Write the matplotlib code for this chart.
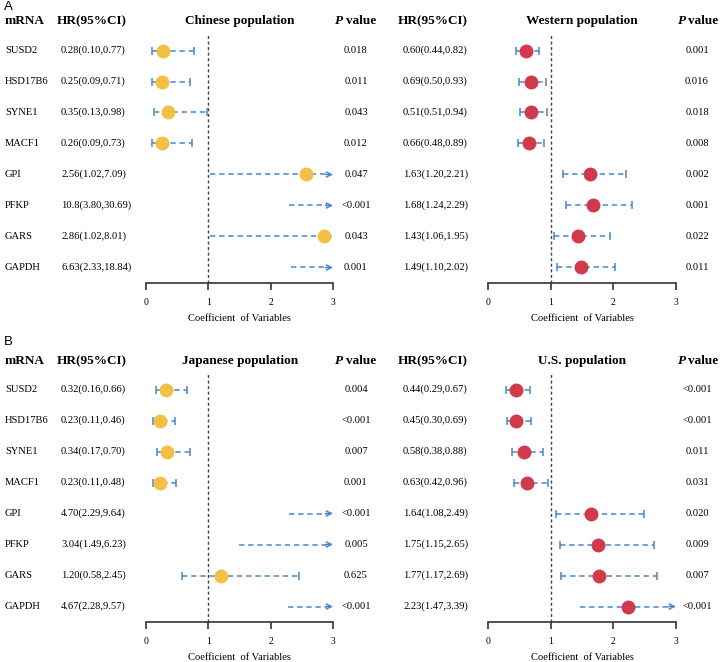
import numpy as np
import matplotlib.pyplot as plt
from matplotlib.transforms import blended_transform_factory

plt.rcParams['font.family'] = ['Liberation Serif', 'DejaVu Serif']

genes = ['SUSD2', 'HSD17B6', 'SYNE1', 'MACF1', 'GPI', 'PFKP', 'GARS', 'GAPDH']

# Chinese population
cn_text = ['0.28(0.10,0.77)', '0.25(0.09,0.71)', '0.35(0.13,0.98)', '0.26(0.09,0.73)',
           '2.56(1.02,7.09)', '10.8(3.80,30.69)', '2.86(1.02,8.01)', '6.63(2.33,18.84)']
cn_est = [0.28, 0.25, 0.35, 0.26, 2.56, 10.8, 2.86, 6.63]
cn_lo = [0.10, 0.09, 0.13, 0.09, 1.02, 2.30, 1.02, 2.33]
cn_hi = [0.77, 0.71, 0.98, 0.73, 7.09, 30.69, 8.01, 18.84]
cn_p = ['0.018', '0.011', '0.043', '0.012', '0.047', '<0.001', '0.043', '0.001']

# Western population
we_text = ['0.60(0.44,0.82)', '0.69(0.50,0.93)', '0.51(0.51,0.94)', '0.66(0.48,0.89)',
           '1.63(1.20,2.21)', '1.68(1.24,2.29)', '1.43(1.06,1.95)', '1.49(1.10,2.02)']
we_est = [0.60, 0.69, 0.69, 0.66, 1.63, 1.68, 1.43, 1.49]
we_lo = [0.44, 0.50, 0.51, 0.48, 1.20, 1.24, 1.06, 1.10]
we_hi = [0.82, 0.93, 0.94, 0.89, 2.21, 2.29, 1.95, 2.02]
we_p = ['0.001', '0.016', '0.018', '0.008', '0.002', '0.001', '0.022', '0.011']

# Japanese population
jp_text = ['0.32(0.16,0.66)', '0.23(0.11,0.46)', '0.34(0.17,0.70)', '0.23(0.11,0.48)',
           '4.70(2.29,9.64)', '3.04(1.49,6.23)', '1.20(0.58,2.45)', '4.67(2.28,9.57)']
jp_est = [0.32, 0.23, 0.34, 0.23, 4.70, 3.04, 1.20, 4.67]
jp_lo = [0.16, 0.11, 0.17, 0.11, 2.29, 1.49, 0.58, 2.28]
jp_hi = [0.66, 0.46, 0.70, 0.48, 9.64, 6.23, 2.45, 9.57]
jp_p = ['0.004', '<0.001', '0.007', '0.001', '<0.001', '0.005', '0.625', '<0.001']

# U.S. population
us_text = ['0.44(0.29,0.67)', '0.45(0.30,0.69)', '0.58(0.38,0.88)', '0.63(0.42,0.96)',
           '1.64(1.08,2.49)', '1.75(1.15,2.65)', '1.77(1.17,2.69)', '2.23(1.47,3.39)']
us_est = [0.44, 0.45, 0.58, 0.63, 1.64, 1.75, 1.77, 2.23]
us_lo = [0.29, 0.30, 0.38, 0.42, 1.08, 1.15, 1.17, 1.47]
us_hi = [0.67, 0.69, 0.88, 0.96, 2.49, 2.65, 2.69, 3.39]
us_p = ['<0.001', '<0.001', '0.011', '0.031', '0.020', '0.009', '0.007', '<0.001']

W, H = 720, 662
blue = '#4a86cc'
gold = '#f2c043'
red = '#d03a4a'
body = 7.6
head = 9.5

fig = plt.figure(figsize=(W / 100, H / 100), dpi=100)


def px(x):
    return x / W


def py(y):
    return 1 - y / H


def forest(left, right, bottom, est, lo, hi, color):
    top = bottom - 248
    ax = fig.add_axes([px(left), py(bottom), px(right - left), (bottom - top) / H])
    ax.patch.set_alpha(0)
    ax.set_xlim(0, 3)
    ax.set_ylim(7.5, -0.5)
    for s in ['top', 'right', 'left']:
        ax.spines[s].set_visible(False)
    ax.spines['bottom'].set_linewidth(1.2)
    ax.spines['bottom'].set_color('#333333')
    ax.set_yticks([])
    ax.set_xticks([0, 1, 2, 3])
    ax.tick_params(axis='x', direction='out', length=5, width=1.2, color='#333333',
                   pad=6, labelsize=7)
    ax.set_xlabel('Coefficient  of Variables', fontsize=7.6, labelpad=4.5)
    ax.axvline(1, color='#444444', ls=(0, (2.2, 1.8)), lw=1, zorder=1)
    dash = (0, (3.5, 2.5))
    for y, e, l, u in zip(range(len(est)), est, lo, hi):
        if u > 3:
            ax.plot([l, 2.9], [y, y], ls=dash, color=blue, lw=1.1, clip_on=False)
            ax.annotate('', xy=(3, y), xytext=(2.88, y),
                        arrowprops=dict(arrowstyle='->', color=blue, lw=1.1,
                                        mutation_scale=9, shrinkA=0, shrinkB=0),
                        annotation_clip=False)
        else:
            ax.plot([l, u], [y, y], ls=dash, color=blue, lw=1.1, clip_on=False)
            ax.plot([l, u], [y, y], ls='none', marker='|', ms=6, mew=1.1,
                    color=blue, clip_on=False)
        if e <= 3:
            ax.plot(e, y, 'o', ms=9, color=color, mec=color, zorder=3, clip_on=False)
    return ax


def columns(ax_l, ax_r, head_y, texts_l, p_l, texts_r, p_r, title_l, title_r):
    tl = blended_transform_factory(fig.transFigure, ax_l.transData)
    for i, g in enumerate(genes):
        fig.text(px(5), i, g, transform=tl, fontsize=body, va='center')
        fig.text(px(61), i, texts_l[i], transform=tl, fontsize=body, va='center')
        fig.text(px(356), i, p_l[i], transform=tl, fontsize=body, va='center', ha='center')
        fig.text(px(403), i, texts_r[i], transform=tl, fontsize=body, va='center')
        fig.text(px(697), i, p_r[i], transform=tl, fontsize=body, va='center', ha='center')
    y = py(head_y)
    fig.text(px(5), y, 'mRNA', fontsize=head, weight='bold', va='center')
    fig.text(px(57), y, 'HR(95%CI)', fontsize=head, weight='bold', va='center')
    fig.text(px(240), y, title_l, fontsize=head, weight='bold', va='center', ha='center')
    fig.text(px(335), y, 'P', fontsize=head, weight='bold', style='italic', va='center')
    fig.text(px(346), y, 'value', fontsize=head, weight='bold', va='center')
    fig.text(px(398), y, 'HR(95%CI)', fontsize=head, weight='bold', va='center')
    fig.text(px(582), y, title_r, fontsize=head, weight='bold', va='center', ha='center')
    fig.text(px(678), y, 'P', fontsize=head, weight='bold', style='italic', va='center')
    fig.text(px(688), y, 'value', fontsize=head, weight='bold', va='center')


# Panel A
a1 = forest(146, 333, 283, cn_est, cn_lo, cn_hi, gold)
a2 = forest(488, 676, 283, we_est, we_lo, we_hi, red)
columns(a1, a2, 21, cn_text, cn_p, we_text, we_p, 'Chinese population', 'Western population')
fig.text(px(4), py(0.5), 'A', fontsize=9.5, family='Liberation Sans', va='top')

# Panel B
b1 = forest(146, 333, 622, jp_est, jp_lo, jp_hi, gold)
b2 = forest(488, 676, 622, us_est, us_lo, us_hi, red)
columns(b1, b2, 361, jp_text, jp_p, us_text, us_p, 'Japanese population', 'U.S. population')
fig.text(px(4), py(336), 'B', fontsize=9.5, family='Liberation Sans', va='top')

fig.savefig('out.png', dpi=100)
